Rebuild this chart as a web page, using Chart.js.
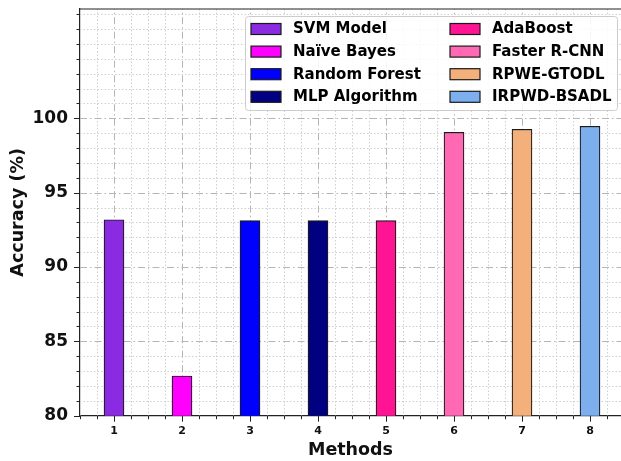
<!DOCTYPE html>
<html>
<head>
<meta charset="utf-8">
<script src="https://cdn.jsdelivr.net/npm/chart.js@4/dist/chart.umd.min.js"></script>
<style>
  html, body { margin: 0; padding: 0; background: #ffffff; }
  #wrap { width: 621px; height: 461px; }
</style>
</head>
<body>
<div id="wrap"><canvas id="c" width="621" height="461"></canvas></div>
<script>
const methods = ['SVM Model', 'Naïve Bayes', 'Random Forest', 'MLP Algorithm', 'AdaBoost', 'Faster R-CNN', 'RPWE-GTODL', 'IRPWD-BSADL'];
const positions = [1, 2, 3, 4, 5, 6, 7, 8];
const accuracy = [93.18, 82.67, 93.12, 93.12, 93.12, 99.06, 99.26, 99.46];
const barColors = ['#8A2BE2', '#FF00FF', '#0000FF', '#000080', '#FF1493', '#FF69B4', '#F3B07B', '#7DAFEF'];
const xTickLabels = ['1', '2', '3', '4', '5', '6', '7', '8'];
const yTickLabels = [80, 85, 90, 95, 100];

const FONT = "'DejaVu Sans', sans-serif";

const datasets = methods.map((m, i) => ({
  label: m,
  data: [{ x: positions[i], y: accuracy[i] }],
  backgroundColor: barColors[i],
  borderColor: '#1a1a1a',
  borderWidth: 1.2,
  borderSkipped: false,
  grouped: false,
  barThickness: 20
}));

function isMajorX(v) { return Math.abs(v - Math.round(v)) < 1e-6 && xTickLabels.includes(String(Math.round(v))); }
function isMajorY(v) { return yTickLabels.some(t => Math.abs(t - v) < 1e-6); }

const gridPlugin = {
  id: 'mplGrid',
  beforeDatasetsDraw(chart) {
    const { ctx, chartArea: a, scales: { x, y } } = chart;
    ctx.save();
    ctx.beginPath();
    ctx.rect(a.left, a.top, a.right - a.left, a.bottom - a.top);
    ctx.clip();
    ctx.strokeStyle = '#cfcfcf';
    ctx.lineWidth = 1;
    ctx.setLineDash([1.5, 2]);
    x.ticks.forEach(t => {
      if (isMajorX(t.value)) return;
      const px = Math.round(x.getPixelForValue(t.value)) + 0.5;
      ctx.beginPath(); ctx.moveTo(px, a.top); ctx.lineTo(px, a.bottom); ctx.stroke();
    });
    y.ticks.forEach(t => {
      if (isMajorY(t.value)) return;
      const py = Math.round(y.getPixelForValue(t.value)) + 0.5;
      ctx.beginPath(); ctx.moveTo(a.left, py); ctx.lineTo(a.right, py); ctx.stroke();
    });
    ctx.strokeStyle = '#b5b5b5';
    ctx.lineWidth = 1;
    ctx.setLineDash([7, 3, 1.5, 3]);
    x.ticks.forEach(t => {
      if (!isMajorX(t.value)) return;
      const px = Math.round(x.getPixelForValue(t.value)) + 0.5;
      ctx.beginPath(); ctx.moveTo(px, a.bottom); ctx.lineTo(px, a.top); ctx.stroke();
    });
    y.ticks.forEach(t => {
      if (!isMajorY(t.value)) return;
      const py = Math.round(y.getPixelForValue(t.value)) + 0.5;
      ctx.beginPath(); ctx.moveTo(a.left, py); ctx.lineTo(a.right, py); ctx.stroke();
    });
    ctx.restore();
  },
  afterDraw(chart) {
    const { ctx, chartArea: a, scales: { x, y } } = chart;
    ctx.save();
    ctx.strokeStyle = '#222';
    ctx.lineWidth = 1;
    ctx.setLineDash([]);
    x.ticks.forEach(t => {
      const px = Math.round(x.getPixelForValue(t.value)) + 0.5;
      const len = isMajorX(t.value) ? 6 : 3.5;
      ctx.beginPath(); ctx.moveTo(px, a.bottom); ctx.lineTo(px, a.bottom + len); ctx.stroke();
    });
    y.ticks.forEach(t => {
      const py = Math.round(y.getPixelForValue(t.value)) + 0.5;
      const len = isMajorY(t.value) ? 6 : 3.5;
      ctx.beginPath(); ctx.moveTo(a.left, py); ctx.lineTo(a.left - len, py); ctx.stroke();
    });
    ctx.lineWidth = 1.2;
    ctx.beginPath(); ctx.moveTo(a.left, a.top); ctx.lineTo(a.right, a.top); ctx.stroke();

    const fL = a.left + 165, fT = a.top + 7, fW = a.right - 4 - fL, fH = 94;
    ctx.fillStyle = 'rgba(255,255,255,0.85)';
    ctx.strokeStyle = '#cccccc';
    ctx.lineWidth = 1;
    ctx.beginPath();
    if (ctx.roundRect) ctx.roundRect(fL + 0.5, fT + 0.5, fW, fH, 3); else ctx.rect(fL + 0.5, fT + 0.5, fW, fH);
    ctx.fill(); ctx.stroke();
    ctx.font = "bold 15px " + FONT;
    ctx.textBaseline = 'middle';
    ctx.textAlign = 'left';
    chart.data.datasets.forEach((ds, i) => {
      const col = Math.floor(i / 4), row = i % 4;
      const bx = fL + 6 + col * 199;
      const cy = fT + 13 + row * 22.6;
      ctx.fillStyle = ds.backgroundColor;
      ctx.fillRect(bx, cy - 5.5, 30, 11);
      ctx.strokeStyle = '#1a1a1a';
      ctx.lineWidth = 1.2;
      ctx.strokeRect(bx, cy - 5.5, 30, 11);
      ctx.fillStyle = '#000';
      ctx.fillText(ds.label, bx + 42, cy + 0.5);
    });
    ctx.restore();
  }
};

new Chart(document.getElementById('c'), {
  type: 'bar',
  data: { datasets },
  plugins: [gridPlugin],
  options: {
    responsive: false,
    animation: false,
    devicePixelRatio: 1,
    layout: { padding: { top: 9, right: 0, left: 0, bottom: 0 } },
    plugins: { legend: { display: false }, tooltip: { enabled: false } },
    scales: {
      x: {
        type: 'linear',
        offset: false,
        min: 0.5,
        max: 8.456,
        afterFit(s) { s.height = 45.3; s.paddingLeft = 0; s.paddingRight = 0; },
        ticks: {
          stepSize: 0.25,
          maxTicksLimit: 1000,
          includeBounds: false,
          autoSkip: false,
          maxRotation: 0,
          padding: 3,
          color: '#111',
          font: { family: FONT, size: 11, weight: 'bold' },
          callback(v) { return isMajorX(v) ? String(Math.round(v)) : ''; }
        },
        grid: { offset: false, drawOnChartArea: false, drawTicks: true, tickLength: 6, tickColor: 'rgba(0,0,0,0)' },
        border: { display: true, color: '#222', width: 1.2 },
        title: {
          display: true, text: 'Methods', color: '#111',
          font: { family: FONT, size: 17.5, weight: 'bold' },
          padding: { top: 0, bottom: 0 }
        }
      },
      y: {
        type: 'linear',
        min: 80,
        max: 107.35,
        afterFit(s) { s.width = 80; s.paddingTop = 0; s.paddingBottom = 0; },
        ticks: {
          stepSize: 1,
          maxTicksLimit: 1000,
          includeBounds: false,
          autoSkip: false,
          padding: 6,
          color: '#111',
          font: { family: FONT, size: 17, weight: 'bold' },
          callback(v) { return isMajorY(v) ? String(v) : ''; }
        },
        grid: { drawOnChartArea: false, drawTicks: true, tickLength: 6, tickColor: 'rgba(0,0,0,0)' },
        border: { display: true, color: '#222', width: 1.2 },
        title: {
          display: true, text: 'Accuracy (%)', color: '#111',
          font: { family: FONT, size: 17.5, weight: 'bold' },
          padding: { top: 8, bottom: 0 }
        }
      }
    }
  }
});
</script>
</body>
</html>
